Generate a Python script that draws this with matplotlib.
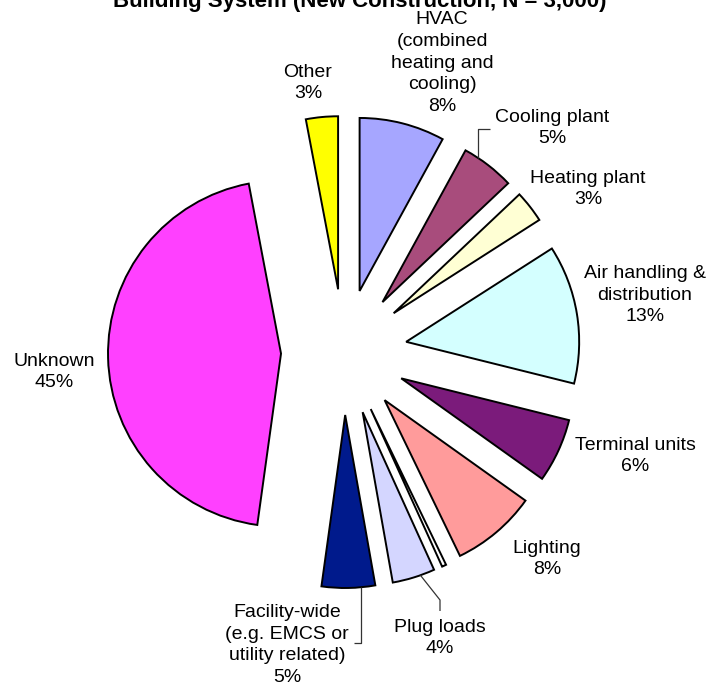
import math
import matplotlib
matplotlib.use("Agg")
import matplotlib.pyplot as plt

plt.rcParams['font.family'] = ['Liberation Sans', 'DejaVu Sans']

# Share of issues by building system, clockwise from 12 o'clock
categories = [
    "HVAC\n(combined\nheating and\ncooling)",
    "Cooling plant",
    "Heating plant",
    "Air handling &\ndistribution",
    "Terminal units",
    "Lighting",
    "",  # sliver with no label
    "Plug loads",
    "Facility-wide\n(e.g. EMCS or\nutility related)",
    "Unknown",
    "Other",
]
shares = [8, 5, 3, 13, 6, 8, 0.4, 4, 5, 45, 3]
pct_labels = ["8%", "5%", "3%", "13%", "6%", "8%", "", "4%", "5%", "45%", "3%"]
colors = ["#A6A6FF", "#A84C7C", "#FFFFD4", "#D4FFFF", "#7B1B7B", "#FF9B9B",
          "#FFFFFF", "#D4D6FF", "#001A8C", "#FF40FF", "#FFFF00"]

title = "Building System (New Construction, N = 3,000)"

W, H = 720, 688
fig = plt.figure(figsize=(W / 100, H / 100), dpi=100)
ax = fig.add_axes([0, 0, 1, 1])

radius = 173
center = (344, H - 352)
offset = 63

wedges, _ = ax.pie(shares, colors=colors, startangle=90, counterclock=False,
                   radius=radius, center=center, explode=[offset] * len(shares),
                   wedgeprops=dict(edgecolor="black", linewidth=1.4),
                   frame=False)
ax.set_xlim(0, W)
ax.set_ylim(0, H)
ax.set_aspect("equal")
ax.axis("off")


def img(x, y):
    return x, H - y


# label block centres (x, y from top)
label_pos = {
    0: (442, 63),
    1: (552, 128),
    2: (588, 189),
    3: (645, 295),
    4: (635, 456),
    5: (547, 559),
    7: (440, 638),
    8: (287, 645),
    9: (54, 372),
    10: (308, 83),
}
for i, (x, y) in label_pos.items():
    ax.text(*img(x, y), f"{categories[i]}\n{pct_labels[i]}", ha="center",
            va="center", multialignment="center", fontsize=14,
            linespacing=1.38, color="black")


def arc_point(w, t):
    ang = math.radians(w.theta1 + t * (w.theta2 - w.theta1))
    cx, cy = w.center
    return cx + w.r * math.cos(ang), cy + w.r * math.sin(ang)


leader_kw = dict(color="#333333", linewidth=0.9, solid_capstyle="butt")

# Cooling plant leader: up, then right to the label
px, py = arc_point(wedges[1], 0.72)
ax.plot([px, px, 490], [py, H - 129, H - 129], **leader_kw)

# Plug loads leader: diagonal, then down to the label
px, py = arc_point(wedges[7], 0.66)
ax.plot([px, 440, 440], [py, H - 600, H - 611], **leader_kw)

# Facility-wide leader: down, then left to the label
px, py = arc_point(wedges[8], 0.74)
ax.plot([px, px, 354], [py, H - 643, H - 643], **leader_kw)

fig.text(360 / W, 1 - 7 / H, title, ha="center", va="baseline",
         fontsize=16, fontweight="bold")

fig.savefig("out.png", dpi=100)
